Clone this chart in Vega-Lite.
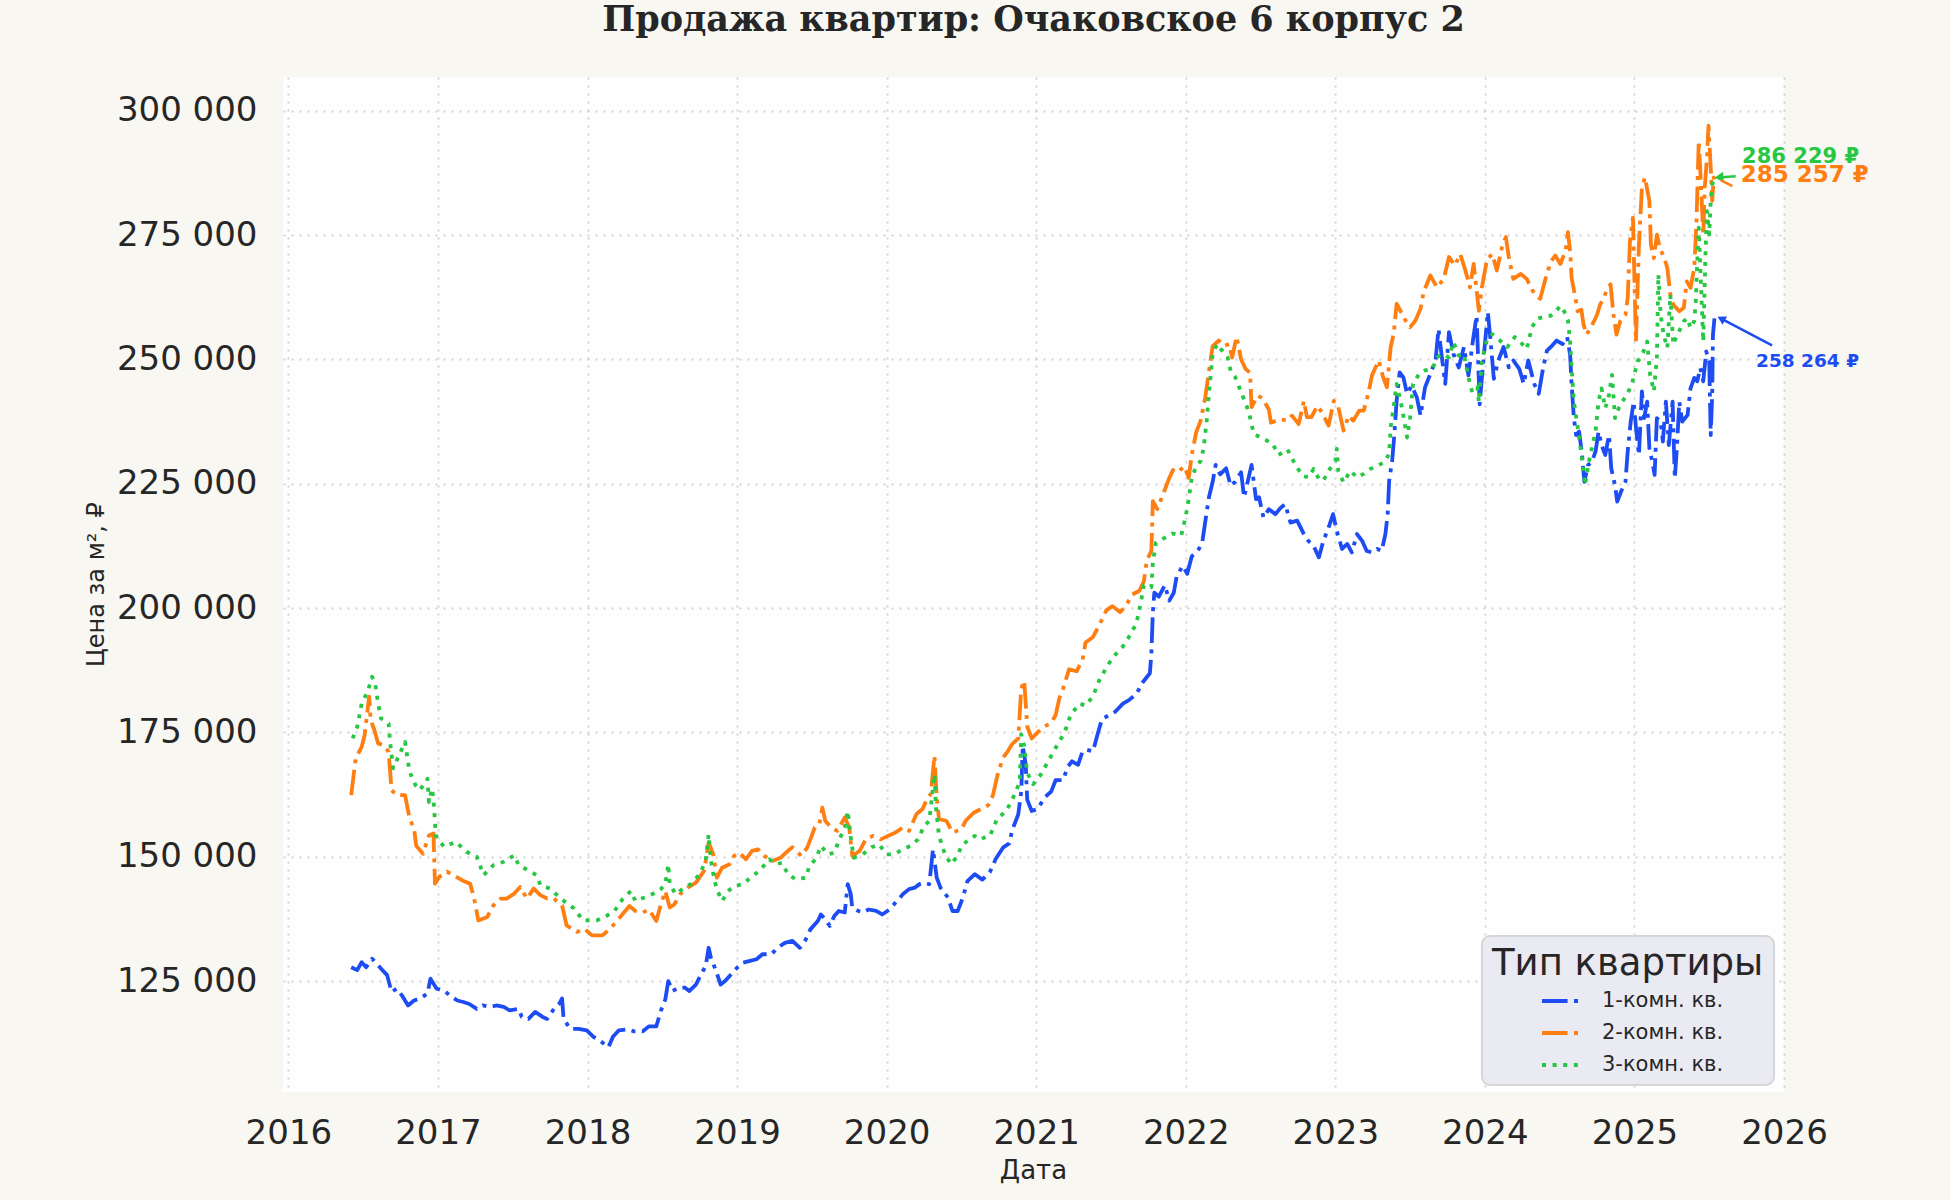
{
  "$schema": "https://vega.github.io/schema/vega-lite/v6.json",
  "width": 1501,
  "height": 1015,
  "autosize": {"type": "none"},
  "padding": {"left": 283, "top": 77, "right": 166, "bottom": 108},
  "background": "#f8f7f2",
  "title": {
    "text": "Продажа квартир: Очаковское 6 корпус 2",
    "font": "DejaVu Serif",
    "fontSize": 35,
    "fontWeight": "bold",
    "color": "#262626",
    "anchor": "middle",
    "frame": "group",
    "offset": 39
  },
  "config": {
    "font": "DejaVu Sans",
    "view": {"fill": "#fefefe", "stroke": null},
    "axis": {
      "domain": false,
      "ticks": false,
      "tickSize": 0,
      "grid": true,
      "gridColor": "#d2d2d2",
      "gridDash": [2, 6],
      "gridWidth": 2,
      "labelFont": "DejaVu Sans",
      "labelFontSize": 34,
      "labelColor": "#262626",
      "labelFlush": false,
      "titleFont": "DejaVu Sans",
      "titleFontWeight": "normal",
      "titleColor": "#262626"
    },
    "legend": {
      "orient": "none",
      "legendX": 1199,
      "legendY": 859,
      "padding": 10,
      "fillColor": "#eaeaf2",
      "strokeColor": "#d6d6d6",
      "strokeWidth": 2,
      "cornerRadius": 8,
      "titleFont": "DejaVu Sans",
      "titleFontSize": 37,
      "titleFontWeight": "normal",
      "titleColor": "#262626",
      "titlePadding": -4,
      "titleLimit": 400,
      "labelFont": "DejaVu Sans",
      "labelFontSize": 21,
      "labelColor": "#262626",
      "labelOffset": 18,
      "labelLimit": 300,
      "symbolType": "stroke",
      "symbolSize": 1600,
      "symbolStrokeWidth": 4,
      "symbolOffset": 48,
      "rowPadding": -11
    }
  },
  "layer": [
    {
      "data": {
        "values": [
          {"t": 2016.42, "v": 127800, "type": "1-комн. кв."},
          {"t": 2016.46, "v": 127200, "type": "1-комн. кв."},
          {"t": 2016.49, "v": 128800, "type": "1-комн. кв."},
          {"t": 2016.52, "v": 127800, "type": "1-комн. кв."},
          {"t": 2016.56, "v": 129500, "type": "1-комн. кв."},
          {"t": 2016.59, "v": 128500, "type": "1-комн. кв."},
          {"t": 2016.62, "v": 127500, "type": "1-комн. кв."},
          {"t": 2016.66, "v": 126200, "type": "1-комн. кв."},
          {"t": 2016.69, "v": 122800, "type": "1-комн. кв."},
          {"t": 2016.725, "v": 123500, "type": "1-комн. кв."},
          {"t": 2016.76, "v": 122100, "type": "1-комн. кв."},
          {"t": 2016.8, "v": 120100, "type": "1-комн. кв."},
          {"t": 2016.84, "v": 121100, "type": "1-комн. кв."},
          {"t": 2016.88, "v": 121500, "type": "1-комн. кв."},
          {"t": 2016.93, "v": 122500, "type": "1-комн. кв."},
          {"t": 2016.95, "v": 125500, "type": "1-комн. кв."},
          {"t": 2016.99, "v": 123500, "type": "1-комн. кв."},
          {"t": 2017.04, "v": 123100, "type": "1-комн. кв."},
          {"t": 2017.08, "v": 122100, "type": "1-комн. кв."},
          {"t": 2017.13, "v": 121100, "type": "1-комн. кв."},
          {"t": 2017.17, "v": 120800, "type": "1-комн. кв."},
          {"t": 2017.21, "v": 120400, "type": "1-комн. кв."},
          {"t": 2017.26, "v": 119400, "type": "1-комн. кв."},
          {"t": 2017.3, "v": 120100, "type": "1-комн. кв."},
          {"t": 2017.35, "v": 119800, "type": "1-комн. кв."},
          {"t": 2017.39, "v": 120100, "type": "1-комн. кв."},
          {"t": 2017.44, "v": 119800, "type": "1-комн. кв."},
          {"t": 2017.48, "v": 119100, "type": "1-комн. кв."},
          {"t": 2017.54, "v": 119400, "type": "1-комн. кв."},
          {"t": 2017.56, "v": 117800, "type": "1-комн. кв."},
          {"t": 2017.605, "v": 117400, "type": "1-комн. кв."},
          {"t": 2017.65, "v": 118800, "type": "1-комн. кв."},
          {"t": 2017.7, "v": 117800, "type": "1-комн. кв."},
          {"t": 2017.73, "v": 117400, "type": "1-комн. кв."},
          {"t": 2017.775, "v": 119400, "type": "1-комн. кв."},
          {"t": 2017.81, "v": 120400, "type": "1-комн. кв."},
          {"t": 2017.83, "v": 121500, "type": "1-комн. кв."},
          {"t": 2017.84, "v": 117400, "type": "1-комн. кв."},
          {"t": 2017.885, "v": 115400, "type": "1-комн. кв."},
          {"t": 2017.94, "v": 115400, "type": "1-комн. кв."},
          {"t": 2017.995, "v": 115100, "type": "1-комн. кв."},
          {"t": 2018.04, "v": 113800, "type": "1-комн. кв."},
          {"t": 2018.08, "v": 113100, "type": "1-комн. кв."},
          {"t": 2018.14, "v": 111700, "type": "1-комн. кв."},
          {"t": 2018.17, "v": 113800, "type": "1-комн. кв."},
          {"t": 2018.21, "v": 115100, "type": "1-комн. кв."},
          {"t": 2018.27, "v": 115300, "type": "1-комн. кв."},
          {"t": 2018.31, "v": 114900, "type": "1-комн. кв."},
          {"t": 2018.37, "v": 114900, "type": "1-комн. кв."},
          {"t": 2018.41, "v": 115900, "type": "1-комн. кв."},
          {"t": 2018.46, "v": 115900, "type": "1-комн. кв."},
          {"t": 2018.49, "v": 119000, "type": "1-комн. кв."},
          {"t": 2018.52, "v": 121300, "type": "1-комн. кв."},
          {"t": 2018.54, "v": 125000, "type": "1-комн. кв."},
          {"t": 2018.57, "v": 123000, "type": "1-комн. кв."},
          {"t": 2018.61, "v": 123700, "type": "1-комн. кв."},
          {"t": 2018.65, "v": 123700, "type": "1-комн. кв."},
          {"t": 2018.68, "v": 123000, "type": "1-комн. кв."},
          {"t": 2018.725, "v": 124300, "type": "1-комн. кв."},
          {"t": 2018.76, "v": 126400, "type": "1-комн. кв."},
          {"t": 2018.79, "v": 128000, "type": "1-комн. кв."},
          {"t": 2018.81, "v": 131700, "type": "1-комн. кв."},
          {"t": 2018.825, "v": 129700, "type": "1-комн. кв."},
          {"t": 2018.86, "v": 127000, "type": "1-комн. кв."},
          {"t": 2018.89, "v": 124300, "type": "1-комн. кв."},
          {"t": 2018.92, "v": 125000, "type": "1-комн. кв."},
          {"t": 2018.97, "v": 126700, "type": "1-комн. кв."},
          {"t": 2019.0, "v": 127700, "type": "1-комн. кв."},
          {"t": 2019.04, "v": 128700, "type": "1-комн. кв."},
          {"t": 2019.08, "v": 129000, "type": "1-комн. кв."},
          {"t": 2019.13, "v": 129400, "type": "1-комн. кв."},
          {"t": 2019.17, "v": 130400, "type": "1-комн. кв."},
          {"t": 2019.23, "v": 130400, "type": "1-комн. кв."},
          {"t": 2019.27, "v": 131700, "type": "1-комн. кв."},
          {"t": 2019.32, "v": 132700, "type": "1-комн. кв."},
          {"t": 2019.37, "v": 133100, "type": "1-комн. кв."},
          {"t": 2019.42, "v": 131700, "type": "1-комн. кв."},
          {"t": 2019.46, "v": 133400, "type": "1-комн. кв."},
          {"t": 2019.49, "v": 135400, "type": "1-комн. кв."},
          {"t": 2019.54, "v": 137100, "type": "1-комн. кв."},
          {"t": 2019.56, "v": 138400, "type": "1-комн. кв."},
          {"t": 2019.59, "v": 137400, "type": "1-комн. кв."},
          {"t": 2019.62, "v": 136100, "type": "1-комн. кв."},
          {"t": 2019.65, "v": 138100, "type": "1-комн. кв."},
          {"t": 2019.68, "v": 139100, "type": "1-комн. кв."},
          {"t": 2019.72, "v": 138800, "type": "1-комн. кв."},
          {"t": 2019.74, "v": 144500, "type": "1-комн. кв."},
          {"t": 2019.76, "v": 142500, "type": "1-комн. кв."},
          {"t": 2019.77, "v": 139800, "type": "1-комн. кв."},
          {"t": 2019.81, "v": 139100, "type": "1-комн. кв."},
          {"t": 2019.84, "v": 138800, "type": "1-комн. кв."},
          {"t": 2019.88, "v": 139400, "type": "1-комн. кв."},
          {"t": 2019.93, "v": 139100, "type": "1-комн. кв."},
          {"t": 2019.97, "v": 138400, "type": "1-комн. кв."},
          {"t": 2020.02, "v": 139400, "type": "1-комн. кв."},
          {"t": 2020.06, "v": 140800, "type": "1-комн. кв."},
          {"t": 2020.11, "v": 142500, "type": "1-комн. кв."},
          {"t": 2020.15, "v": 143500, "type": "1-комн. кв."},
          {"t": 2020.19, "v": 143800, "type": "1-комн. кв."},
          {"t": 2020.22, "v": 144500, "type": "1-комн. кв."},
          {"t": 2020.25, "v": 144800, "type": "1-комн. кв."},
          {"t": 2020.285, "v": 144500, "type": "1-комн. кв."},
          {"t": 2020.31, "v": 151500, "type": "1-комн. кв."},
          {"t": 2020.335, "v": 145800, "type": "1-комн. кв."},
          {"t": 2020.36, "v": 143800, "type": "1-комн. кв."},
          {"t": 2020.41, "v": 141800, "type": "1-комн. кв."},
          {"t": 2020.44, "v": 139100, "type": "1-комн. кв."},
          {"t": 2020.475, "v": 139100, "type": "1-комн. кв."},
          {"t": 2020.51, "v": 141800, "type": "1-комн. кв."},
          {"t": 2020.54, "v": 145100, "type": "1-комн. кв."},
          {"t": 2020.59, "v": 146500, "type": "1-комн. кв."},
          {"t": 2020.64, "v": 145400, "type": "1-комн. кв."},
          {"t": 2020.69, "v": 146900, "type": "1-комн. кв."},
          {"t": 2020.73, "v": 149600, "type": "1-комн. кв."},
          {"t": 2020.78, "v": 151900, "type": "1-комн. кв."},
          {"t": 2020.82, "v": 152700, "type": "1-комн. кв."},
          {"t": 2020.84, "v": 155400, "type": "1-комн. кв."},
          {"t": 2020.88, "v": 158500, "type": "1-комн. кв."},
          {"t": 2020.9, "v": 163100, "type": "1-комн. кв."},
          {"t": 2020.91, "v": 172300, "type": "1-комн. кв."},
          {"t": 2020.93, "v": 168500, "type": "1-комн. кв."},
          {"t": 2020.94, "v": 161500, "type": "1-комн. кв."},
          {"t": 2020.97, "v": 159200, "type": "1-комн. кв."},
          {"t": 2021.01, "v": 159600, "type": "1-комн. кв."},
          {"t": 2021.055, "v": 161900, "type": "1-комн. кв."},
          {"t": 2021.1, "v": 163100, "type": "1-комн. кв."},
          {"t": 2021.13, "v": 165400, "type": "1-комн. кв."},
          {"t": 2021.18, "v": 165400, "type": "1-комн. кв."},
          {"t": 2021.21, "v": 168100, "type": "1-комн. кв."},
          {"t": 2021.24, "v": 169200, "type": "1-комн. кв."},
          {"t": 2021.28, "v": 168500, "type": "1-комн. кв."},
          {"t": 2021.31, "v": 171200, "type": "1-комн. кв."},
          {"t": 2021.34, "v": 171500, "type": "1-комн. кв."},
          {"t": 2021.38, "v": 171200, "type": "1-комн. кв."},
          {"t": 2021.41, "v": 174600, "type": "1-комн. кв."},
          {"t": 2021.44, "v": 177700, "type": "1-комн. кв."},
          {"t": 2021.49, "v": 178500, "type": "1-комн. кв."},
          {"t": 2021.53, "v": 179200, "type": "1-комн. кв."},
          {"t": 2021.58, "v": 180800, "type": "1-комн. кв."},
          {"t": 2021.62, "v": 181500, "type": "1-комн. кв."},
          {"t": 2021.67, "v": 182700, "type": "1-комн. кв."},
          {"t": 2021.71, "v": 185000, "type": "1-комн. кв."},
          {"t": 2021.76, "v": 186900, "type": "1-комн. кв."},
          {"t": 2021.77, "v": 190800, "type": "1-комн. кв."},
          {"t": 2021.78, "v": 199200, "type": "1-комн. кв."},
          {"t": 2021.79, "v": 203100, "type": "1-комн. кв."},
          {"t": 2021.82, "v": 202300, "type": "1-комн. кв."},
          {"t": 2021.86, "v": 204600, "type": "1-комн. кв."},
          {"t": 2021.89, "v": 201500, "type": "1-комн. кв."},
          {"t": 2021.92, "v": 203100, "type": "1-комн. кв."},
          {"t": 2021.94, "v": 206500, "type": "1-комн. кв."},
          {"t": 2021.98, "v": 208500, "type": "1-комн. кв."},
          {"t": 2022.01, "v": 206900, "type": "1-комн. кв."},
          {"t": 2022.04, "v": 210400, "type": "1-комн. кв."},
          {"t": 2022.08, "v": 211500, "type": "1-комн. кв."},
          {"t": 2022.11, "v": 213100, "type": "1-комн. кв."},
          {"t": 2022.13, "v": 217300, "type": "1-комн. кв."},
          {"t": 2022.155, "v": 222300, "type": "1-комн. кв."},
          {"t": 2022.18, "v": 225400, "type": "1-комн. кв."},
          {"t": 2022.2, "v": 228800, "type": "1-комн. кв."},
          {"t": 2022.23, "v": 226900, "type": "1-комн. кв."},
          {"t": 2022.27, "v": 228100, "type": "1-комн. кв."},
          {"t": 2022.3, "v": 224600, "type": "1-комн. кв."},
          {"t": 2022.33, "v": 225400, "type": "1-комн. кв."},
          {"t": 2022.37, "v": 227300, "type": "1-комн. кв."},
          {"t": 2022.39, "v": 222300, "type": "1-комн. кв."},
          {"t": 2022.42, "v": 226200, "type": "1-комн. кв."},
          {"t": 2022.44, "v": 228800, "type": "1-комн. кв."},
          {"t": 2022.47, "v": 221900, "type": "1-комн. кв."},
          {"t": 2022.49, "v": 222300, "type": "1-комн. кв."},
          {"t": 2022.52, "v": 218200, "type": "1-комн. кв."},
          {"t": 2022.555, "v": 219900, "type": "1-комн. кв."},
          {"t": 2022.6, "v": 218900, "type": "1-комн. кв."},
          {"t": 2022.635, "v": 220200, "type": "1-комн. кв."},
          {"t": 2022.665, "v": 220900, "type": "1-комн. кв."},
          {"t": 2022.7, "v": 217200, "type": "1-комн. кв."},
          {"t": 2022.745, "v": 217600, "type": "1-комн. кв."},
          {"t": 2022.79, "v": 214900, "type": "1-комн. кв."},
          {"t": 2022.82, "v": 213500, "type": "1-комн. кв."},
          {"t": 2022.855, "v": 212500, "type": "1-комн. кв."},
          {"t": 2022.89, "v": 210200, "type": "1-комн. кв."},
          {"t": 2022.92, "v": 213500, "type": "1-комн. кв."},
          {"t": 2022.955, "v": 216200, "type": "1-комн. кв."},
          {"t": 2022.985, "v": 218900, "type": "1-комн. кв."},
          {"t": 2023.01, "v": 215500, "type": "1-комн. кв."},
          {"t": 2023.045, "v": 211900, "type": "1-комн. кв."},
          {"t": 2023.08, "v": 212900, "type": "1-комн. кв."},
          {"t": 2023.11, "v": 211200, "type": "1-комн. кв."},
          {"t": 2023.145, "v": 214900, "type": "1-комн. кв."},
          {"t": 2023.18, "v": 213500, "type": "1-комн. кв."},
          {"t": 2023.21, "v": 211500, "type": "1-комн. кв."},
          {"t": 2023.245, "v": 211200, "type": "1-комн. кв."},
          {"t": 2023.28, "v": 211900, "type": "1-комн. кв."},
          {"t": 2023.31, "v": 211500, "type": "1-комн. кв."},
          {"t": 2023.335, "v": 214900, "type": "1-комн. кв."},
          {"t": 2023.35, "v": 218900, "type": "1-комн. кв."},
          {"t": 2023.36, "v": 225600, "type": "1-комн. кв."},
          {"t": 2023.38, "v": 229600, "type": "1-комн. кв."},
          {"t": 2023.395, "v": 235000, "type": "1-комн. кв."},
          {"t": 2023.41, "v": 241700, "type": "1-комн. кв."},
          {"t": 2023.43, "v": 247400, "type": "1-комн. кв."},
          {"t": 2023.455, "v": 246400, "type": "1-комн. кв."},
          {"t": 2023.48, "v": 243100, "type": "1-комн. кв."},
          {"t": 2023.51, "v": 244700, "type": "1-комн. кв."},
          {"t": 2023.545, "v": 242400, "type": "1-комн. кв."},
          {"t": 2023.57, "v": 238700, "type": "1-комн. кв."},
          {"t": 2023.6, "v": 244400, "type": "1-комн. кв."},
          {"t": 2023.635, "v": 247100, "type": "1-комн. кв."},
          {"t": 2023.67, "v": 249800, "type": "1-комн. кв."},
          {"t": 2023.69, "v": 256100, "type": "1-комн. кв."},
          {"t": 2023.715, "v": 249800, "type": "1-комн. кв."},
          {"t": 2023.735, "v": 245100, "type": "1-комн. кв."},
          {"t": 2023.76, "v": 255500, "type": "1-комн. кв."},
          {"t": 2023.79, "v": 251100, "type": "1-комн. кв."},
          {"t": 2023.825, "v": 248400, "type": "1-комн. кв."},
          {"t": 2023.86, "v": 252500, "type": "1-комн. кв."},
          {"t": 2023.89, "v": 246800, "type": "1-комн. кв."},
          {"t": 2023.92, "v": 253800, "type": "1-комн. кв."},
          {"t": 2023.945, "v": 258800, "type": "1-комн. кв."},
          {"t": 2023.965, "v": 241000, "type": "1-комн. кв."},
          {"t": 2023.99, "v": 249800, "type": "1-комн. кв."},
          {"t": 2024.02, "v": 259500, "type": "1-комн. кв."},
          {"t": 2024.04, "v": 253100, "type": "1-комн. кв."},
          {"t": 2024.06, "v": 246100, "type": "1-комн. кв."},
          {"t": 2024.09, "v": 249800, "type": "1-комн. кв."},
          {"t": 2024.125, "v": 252500, "type": "1-комн. кв."},
          {"t": 2024.16, "v": 248400, "type": "1-комн. кв."},
          {"t": 2024.19, "v": 249800, "type": "1-комн. кв."},
          {"t": 2024.23, "v": 248100, "type": "1-комн. кв."},
          {"t": 2024.26, "v": 245100, "type": "1-комн. кв."},
          {"t": 2024.29, "v": 249800, "type": "1-комн. кв."},
          {"t": 2024.33, "v": 245100, "type": "1-комн. кв."},
          {"t": 2024.36, "v": 243100, "type": "1-комн. кв."},
          {"t": 2024.39, "v": 248400, "type": "1-комн. кв."},
          {"t": 2024.415, "v": 251800, "type": "1-комн. кв."},
          {"t": 2024.45, "v": 252800, "type": "1-комн. кв."},
          {"t": 2024.48, "v": 253800, "type": "1-комн. кв."},
          {"t": 2024.52, "v": 253100, "type": "1-комн. кв."},
          {"t": 2024.55, "v": 254500, "type": "1-комн. кв."},
          {"t": 2024.57, "v": 250900, "type": "1-комн. кв."},
          {"t": 2024.58, "v": 244900, "type": "1-комн. кв."},
          {"t": 2024.595, "v": 238200, "type": "1-комн. кв."},
          {"t": 2024.61, "v": 234800, "type": "1-комн. кв."},
          {"t": 2024.63, "v": 235500, "type": "1-комн. кв."},
          {"t": 2024.65, "v": 230800, "type": "1-комн. кв."},
          {"t": 2024.665, "v": 225400, "type": "1-комн. кв."},
          {"t": 2024.69, "v": 228800, "type": "1-комн. кв."},
          {"t": 2024.715, "v": 229400, "type": "1-комн. кв."},
          {"t": 2024.74, "v": 231500, "type": "1-комн. кв."},
          {"t": 2024.76, "v": 235500, "type": "1-комн. кв."},
          {"t": 2024.78, "v": 232800, "type": "1-комн. кв."},
          {"t": 2024.805, "v": 230800, "type": "1-комн. кв."},
          {"t": 2024.83, "v": 234800, "type": "1-комн. кв."},
          {"t": 2024.845, "v": 228100, "type": "1-комн. кв."},
          {"t": 2024.87, "v": 224700, "type": "1-комн. кв."},
          {"t": 2024.885, "v": 221400, "type": "1-комн. кв."},
          {"t": 2024.91, "v": 223400, "type": "1-комн. кв."},
          {"t": 2024.94, "v": 225400, "type": "1-комн. кв."},
          {"t": 2024.955, "v": 231500, "type": "1-комн. кв."},
          {"t": 2024.975, "v": 237500, "type": "1-комн. кв."},
          {"t": 2024.995, "v": 241500, "type": "1-комн. кв."},
          {"t": 2025.015, "v": 234800, "type": "1-комн. кв."},
          {"t": 2025.03, "v": 230800, "type": "1-комн. кв."},
          {"t": 2025.05, "v": 243600, "type": "1-комн. кв."},
          {"t": 2025.065, "v": 238200, "type": "1-комн. кв."},
          {"t": 2025.085, "v": 241500, "type": "1-комн. кв."},
          {"t": 2025.1, "v": 232100, "type": "1-комн. кв."},
          {"t": 2025.12, "v": 229400, "type": "1-комн. кв."},
          {"t": 2025.135, "v": 226800, "type": "1-комн. кв."},
          {"t": 2025.15, "v": 238200, "type": "1-комн. кв."},
          {"t": 2025.175, "v": 237500, "type": "1-комн. кв."},
          {"t": 2025.19, "v": 233500, "type": "1-комн. кв."},
          {"t": 2025.21, "v": 241500, "type": "1-комн. кв."},
          {"t": 2025.23, "v": 232800, "type": "1-комн. кв."},
          {"t": 2025.255, "v": 241500, "type": "1-комн. кв."},
          {"t": 2025.27, "v": 226100, "type": "1-комн. кв."},
          {"t": 2025.285, "v": 232800, "type": "1-комн. кв."},
          {"t": 2025.3, "v": 241500, "type": "1-комн. кв."},
          {"t": 2025.32, "v": 237500, "type": "1-комн. кв."},
          {"t": 2025.355, "v": 238800, "type": "1-комн. кв."},
          {"t": 2025.375, "v": 244200, "type": "1-комн. кв."},
          {"t": 2025.4, "v": 246300, "type": "1-комн. кв."},
          {"t": 2025.42, "v": 245600, "type": "1-комн. кв."},
          {"t": 2025.44, "v": 248300, "type": "1-комн. кв."},
          {"t": 2025.46, "v": 245600, "type": "1-комн. кв."},
          {"t": 2025.48, "v": 251600, "type": "1-комн. кв."},
          {"t": 2025.5, "v": 249600, "type": "1-комн. кв."},
          {"t": 2025.51, "v": 234800, "type": "1-комн. кв."},
          {"t": 2025.52, "v": 242900, "type": "1-комн. кв."},
          {"t": 2025.525, "v": 255000, "type": "1-комн. кв."},
          {"t": 2025.535, "v": 258264, "type": "1-комн. кв."},
          {"t": 2016.42, "v": 162400, "type": "2-комн. кв."},
          {"t": 2016.45, "v": 169800, "type": "2-комн. кв."},
          {"t": 2016.49, "v": 172100, "type": "2-комн. кв."},
          {"t": 2016.51, "v": 174500, "type": "2-комн. кв."},
          {"t": 2016.54, "v": 182200, "type": "2-комн. кв."},
          {"t": 2016.55, "v": 177500, "type": "2-комн. кв."},
          {"t": 2016.575, "v": 175500, "type": "2-комн. кв."},
          {"t": 2016.6, "v": 172800, "type": "2-комн. кв."},
          {"t": 2016.64, "v": 172400, "type": "2-комн. кв."},
          {"t": 2016.67, "v": 171100, "type": "2-комн. кв."},
          {"t": 2016.69, "v": 163400, "type": "2-комн. кв."},
          {"t": 2016.725, "v": 162400, "type": "2-комн. кв."},
          {"t": 2016.78, "v": 162400, "type": "2-комн. кв."},
          {"t": 2016.81, "v": 157700, "type": "2-комн. кв."},
          {"t": 2016.84, "v": 155700, "type": "2-комн. кв."},
          {"t": 2016.855, "v": 152200, "type": "2-комн. кв."},
          {"t": 2016.9, "v": 150600, "type": "2-комн. кв."},
          {"t": 2016.94, "v": 154300, "type": "2-комн. кв."},
          {"t": 2016.97, "v": 154700, "type": "2-комн. кв."},
          {"t": 2016.98, "v": 144600, "type": "2-комн. кв."},
          {"t": 2017.01, "v": 146000, "type": "2-комн. кв."},
          {"t": 2017.06, "v": 147000, "type": "2-комн. кв."},
          {"t": 2017.105, "v": 146300, "type": "2-комн. кв."},
          {"t": 2017.16, "v": 145300, "type": "2-комн. кв."},
          {"t": 2017.215, "v": 144600, "type": "2-комн. кв."},
          {"t": 2017.24, "v": 141900, "type": "2-комн. кв."},
          {"t": 2017.27, "v": 137200, "type": "2-комн. кв."},
          {"t": 2017.33, "v": 137900, "type": "2-комн. кв."},
          {"t": 2017.37, "v": 140200, "type": "2-комн. кв."},
          {"t": 2017.42, "v": 141600, "type": "2-комн. кв."},
          {"t": 2017.46, "v": 141600, "type": "2-комн. кв."},
          {"t": 2017.51, "v": 142600, "type": "2-комн. кв."},
          {"t": 2017.55, "v": 143900, "type": "2-комн. кв."},
          {"t": 2017.595, "v": 141600, "type": "2-комн. кв."},
          {"t": 2017.64, "v": 143600, "type": "2-комн. кв."},
          {"t": 2017.685, "v": 142300, "type": "2-комн. кв."},
          {"t": 2017.73, "v": 141600, "type": "2-комн. кв."},
          {"t": 2017.775, "v": 141600, "type": "2-комн. кв."},
          {"t": 2017.83, "v": 140200, "type": "2-комн. кв."},
          {"t": 2017.86, "v": 136200, "type": "2-комн. кв."},
          {"t": 2017.93, "v": 134900, "type": "2-комн. кв."},
          {"t": 2017.98, "v": 135500, "type": "2-комн. кв."},
          {"t": 2018.03, "v": 134200, "type": "2-комн. кв."},
          {"t": 2018.1, "v": 134200, "type": "2-комн. кв."},
          {"t": 2018.15, "v": 135500, "type": "2-комн. кв."},
          {"t": 2018.21, "v": 137600, "type": "2-комн. кв."},
          {"t": 2018.28, "v": 140100, "type": "2-комн. кв."},
          {"t": 2018.32, "v": 139100, "type": "2-комн. кв."},
          {"t": 2018.37, "v": 138800, "type": "2-комн. кв."},
          {"t": 2018.41, "v": 139400, "type": "2-комн. кв."},
          {"t": 2018.46, "v": 137100, "type": "2-комн. кв."},
          {"t": 2018.49, "v": 140400, "type": "2-комн. кв."},
          {"t": 2018.52, "v": 143100, "type": "2-комн. кв."},
          {"t": 2018.55, "v": 139800, "type": "2-комн. кв."},
          {"t": 2018.58, "v": 140400, "type": "2-комн. кв."},
          {"t": 2018.62, "v": 142500, "type": "2-комн. кв."},
          {"t": 2018.67, "v": 143800, "type": "2-комн. кв."},
          {"t": 2018.725, "v": 144800, "type": "2-комн. кв."},
          {"t": 2018.78, "v": 147200, "type": "2-комн. кв."},
          {"t": 2018.81, "v": 152900, "type": "2-комн. кв."},
          {"t": 2018.84, "v": 150500, "type": "2-комн. кв."},
          {"t": 2018.865, "v": 145800, "type": "2-комн. кв."},
          {"t": 2018.9, "v": 147800, "type": "2-комн. кв."},
          {"t": 2018.95, "v": 148500, "type": "2-комн. кв."},
          {"t": 2018.98, "v": 150200, "type": "2-комн. кв."},
          {"t": 2019.015, "v": 150800, "type": "2-комн. кв."},
          {"t": 2019.06, "v": 149500, "type": "2-комн. кв."},
          {"t": 2019.1, "v": 151200, "type": "2-комн. кв."},
          {"t": 2019.14, "v": 151500, "type": "2-комн. кв."},
          {"t": 2019.18, "v": 150200, "type": "2-комн. кв."},
          {"t": 2019.24, "v": 149200, "type": "2-комн. кв."},
          {"t": 2019.29, "v": 149800, "type": "2-комн. кв."},
          {"t": 2019.34, "v": 151200, "type": "2-комн. кв."},
          {"t": 2019.37, "v": 151900, "type": "2-комн. кв."},
          {"t": 2019.43, "v": 150200, "type": "2-комн. кв."},
          {"t": 2019.47, "v": 151900, "type": "2-комн. кв."},
          {"t": 2019.52, "v": 155900, "type": "2-комн. кв."},
          {"t": 2019.55, "v": 156500, "type": "2-комн. кв."},
          {"t": 2019.57, "v": 159900, "type": "2-комн. кв."},
          {"t": 2019.59, "v": 157200, "type": "2-комн. кв."},
          {"t": 2019.63, "v": 155900, "type": "2-комн. кв."},
          {"t": 2019.67, "v": 155200, "type": "2-комн. кв."},
          {"t": 2019.72, "v": 157900, "type": "2-комн. кв."},
          {"t": 2019.75, "v": 155900, "type": "2-комн. кв."},
          {"t": 2019.77, "v": 150200, "type": "2-комн. кв."},
          {"t": 2019.82, "v": 151200, "type": "2-комн. кв."},
          {"t": 2019.86, "v": 153500, "type": "2-комн. кв."},
          {"t": 2019.91, "v": 154200, "type": "2-комн. кв."},
          {"t": 2019.96, "v": 153500, "type": "2-комн. кв."},
          {"t": 2020.01, "v": 154200, "type": "2-комн. кв."},
          {"t": 2020.06, "v": 154900, "type": "2-комн. кв."},
          {"t": 2020.11, "v": 155900, "type": "2-комн. кв."},
          {"t": 2020.15, "v": 155200, "type": "2-комн. кв."},
          {"t": 2020.2, "v": 158600, "type": "2-комн. кв."},
          {"t": 2020.24, "v": 159600, "type": "2-комн. кв."},
          {"t": 2020.275, "v": 161900, "type": "2-комн. кв."},
          {"t": 2020.295, "v": 162600, "type": "2-комн. кв."},
          {"t": 2020.32, "v": 170300, "type": "2-комн. кв."},
          {"t": 2020.335, "v": 161900, "type": "2-комн. кв."},
          {"t": 2020.35, "v": 157600, "type": "2-комн. кв."},
          {"t": 2020.4, "v": 157200, "type": "2-комн. кв."},
          {"t": 2020.44, "v": 154900, "type": "2-комн. кв."},
          {"t": 2020.5, "v": 155500, "type": "2-комн. кв."},
          {"t": 2020.53, "v": 157300, "type": "2-комн. кв."},
          {"t": 2020.58, "v": 158800, "type": "2-комн. кв."},
          {"t": 2020.63, "v": 159600, "type": "2-комн. кв."},
          {"t": 2020.68, "v": 160400, "type": "2-комн. кв."},
          {"t": 2020.71, "v": 162300, "type": "2-комн. кв."},
          {"t": 2020.745, "v": 166900, "type": "2-комн. кв."},
          {"t": 2020.78, "v": 170000, "type": "2-комн. кв."},
          {"t": 2020.81, "v": 171200, "type": "2-комн. кв."},
          {"t": 2020.84, "v": 172700, "type": "2-комн. кв."},
          {"t": 2020.88, "v": 173800, "type": "2-комн. кв."},
          {"t": 2020.9, "v": 183800, "type": "2-комн. кв."},
          {"t": 2020.92, "v": 185400, "type": "2-комн. кв."},
          {"t": 2020.94, "v": 176200, "type": "2-комн. кв."},
          {"t": 2020.97, "v": 173800, "type": "2-комн. кв."},
          {"t": 2021.01, "v": 175000, "type": "2-комн. кв."},
          {"t": 2021.055, "v": 176200, "type": "2-комн. кв."},
          {"t": 2021.1, "v": 176900, "type": "2-комн. кв."},
          {"t": 2021.13, "v": 178500, "type": "2-комн. кв."},
          {"t": 2021.155, "v": 181900, "type": "2-комн. кв."},
          {"t": 2021.18, "v": 183800, "type": "2-комн. кв."},
          {"t": 2021.22, "v": 187700, "type": "2-комн. кв."},
          {"t": 2021.27, "v": 187300, "type": "2-комн. кв."},
          {"t": 2021.31, "v": 189600, "type": "2-комн. кв."},
          {"t": 2021.33, "v": 193100, "type": "2-комн. кв."},
          {"t": 2021.38, "v": 194200, "type": "2-комн. кв."},
          {"t": 2021.42, "v": 196500, "type": "2-комн. кв."},
          {"t": 2021.47, "v": 199600, "type": "2-комн. кв."},
          {"t": 2021.51, "v": 200400, "type": "2-комн. кв."},
          {"t": 2021.56, "v": 199200, "type": "2-комн. кв."},
          {"t": 2021.6, "v": 200400, "type": "2-комн. кв."},
          {"t": 2021.64, "v": 202700, "type": "2-комн. кв."},
          {"t": 2021.69, "v": 203500, "type": "2-комн. кв."},
          {"t": 2021.72, "v": 205400, "type": "2-комн. кв."},
          {"t": 2021.74, "v": 209600, "type": "2-комн. кв."},
          {"t": 2021.77, "v": 211500, "type": "2-комн. кв."},
          {"t": 2021.78, "v": 221500, "type": "2-комн. кв."},
          {"t": 2021.81, "v": 219900, "type": "2-комн. кв."},
          {"t": 2021.83, "v": 221500, "type": "2-комн. кв."},
          {"t": 2021.86, "v": 223800, "type": "2-комн. кв."},
          {"t": 2021.89, "v": 226200, "type": "2-комн. кв."},
          {"t": 2021.92, "v": 228100, "type": "2-комн. кв."},
          {"t": 2021.96, "v": 227700, "type": "2-комн. кв."},
          {"t": 2021.99, "v": 228500, "type": "2-комн. кв."},
          {"t": 2022.02, "v": 226200, "type": "2-комн. кв."},
          {"t": 2022.04, "v": 230800, "type": "2-комн. кв."},
          {"t": 2022.07, "v": 235400, "type": "2-комн. кв."},
          {"t": 2022.1, "v": 237700, "type": "2-комн. кв."},
          {"t": 2022.13, "v": 242300, "type": "2-комн. кв."},
          {"t": 2022.155, "v": 247700, "type": "2-комн. кв."},
          {"t": 2022.18, "v": 252700, "type": "2-комн. кв."},
          {"t": 2022.22, "v": 253800, "type": "2-комн. кв."},
          {"t": 2022.255, "v": 252700, "type": "2-комн. кв."},
          {"t": 2022.29, "v": 253100, "type": "2-комн. кв."},
          {"t": 2022.31, "v": 250400, "type": "2-комн. кв."},
          {"t": 2022.34, "v": 254600, "type": "2-комн. кв."},
          {"t": 2022.37, "v": 250000, "type": "2-комн. кв."},
          {"t": 2022.4, "v": 248100, "type": "2-комн. кв."},
          {"t": 2022.43, "v": 247300, "type": "2-комн. кв."},
          {"t": 2022.44, "v": 240400, "type": "2-комн. кв."},
          {"t": 2022.48, "v": 242700, "type": "2-комн. кв."},
          {"t": 2022.51, "v": 242300, "type": "2-комн. кв."},
          {"t": 2022.555, "v": 240000, "type": "2-комн. кв."},
          {"t": 2022.57, "v": 237300, "type": "2-комн. кв."},
          {"t": 2022.63, "v": 238000, "type": "2-комн. кв."},
          {"t": 2022.68, "v": 237700, "type": "2-комн. кв."},
          {"t": 2022.71, "v": 238700, "type": "2-комн. кв."},
          {"t": 2022.755, "v": 237000, "type": "2-комн. кв."},
          {"t": 2022.79, "v": 241700, "type": "2-комн. кв."},
          {"t": 2022.81, "v": 238400, "type": "2-комн. кв."},
          {"t": 2022.84, "v": 238400, "type": "2-комн. кв."},
          {"t": 2022.88, "v": 240700, "type": "2-комн. кв."},
          {"t": 2022.91, "v": 239400, "type": "2-комн. кв."},
          {"t": 2022.955, "v": 236700, "type": "2-комн. кв."},
          {"t": 2022.99, "v": 241700, "type": "2-комн. кв."},
          {"t": 2023.02, "v": 240400, "type": "2-комн. кв."},
          {"t": 2023.055, "v": 235700, "type": "2-комн. кв."},
          {"t": 2023.09, "v": 238700, "type": "2-комн. кв."},
          {"t": 2023.12, "v": 237700, "type": "2-комн. кв."},
          {"t": 2023.16, "v": 239700, "type": "2-комн. кв."},
          {"t": 2023.19, "v": 239700, "type": "2-комн. кв."},
          {"t": 2023.22, "v": 243100, "type": "2-комн. кв."},
          {"t": 2023.245, "v": 246800, "type": "2-комн. кв."},
          {"t": 2023.29, "v": 249800, "type": "2-комн. кв."},
          {"t": 2023.32, "v": 246400, "type": "2-комн. кв."},
          {"t": 2023.345, "v": 244400, "type": "2-комн. кв."},
          {"t": 2023.37, "v": 252500, "type": "2-комн. кв."},
          {"t": 2023.39, "v": 255100, "type": "2-комн. кв."},
          {"t": 2023.41, "v": 261200, "type": "2-комн. кв."},
          {"t": 2023.435, "v": 259800, "type": "2-комн. кв."},
          {"t": 2023.47, "v": 257800, "type": "2-комн. кв."},
          {"t": 2023.5, "v": 256500, "type": "2-комн. кв."},
          {"t": 2023.535, "v": 257800, "type": "2-комн. кв."},
          {"t": 2023.57, "v": 260200, "type": "2-комн. кв."},
          {"t": 2023.59, "v": 263500, "type": "2-комн. кв."},
          {"t": 2023.635, "v": 266900, "type": "2-комн. кв."},
          {"t": 2023.68, "v": 264500, "type": "2-комн. кв."},
          {"t": 2023.725, "v": 266200, "type": "2-комн. кв."},
          {"t": 2023.76, "v": 270600, "type": "2-комн. кв."},
          {"t": 2023.8, "v": 268900, "type": "2-комн. кв."},
          {"t": 2023.835, "v": 271200, "type": "2-комн. кв."},
          {"t": 2023.87, "v": 267900, "type": "2-комн. кв."},
          {"t": 2023.9, "v": 264500, "type": "2-комн. кв."},
          {"t": 2023.925, "v": 269200, "type": "2-комн. кв."},
          {"t": 2023.96, "v": 259800, "type": "2-комн. кв."},
          {"t": 2023.98, "v": 264500, "type": "2-комн. кв."},
          {"t": 2024.015, "v": 270200, "type": "2-комн. кв."},
          {"t": 2024.05, "v": 271200, "type": "2-комн. кв."},
          {"t": 2024.08, "v": 267900, "type": "2-комн. кв."},
          {"t": 2024.115, "v": 272600, "type": "2-комн. кв."},
          {"t": 2024.14, "v": 274600, "type": "2-комн. кв."},
          {"t": 2024.16, "v": 270600, "type": "2-комн. кв."},
          {"t": 2024.19, "v": 266200, "type": "2-комн. кв."},
          {"t": 2024.24, "v": 267200, "type": "2-комн. кв."},
          {"t": 2024.28, "v": 266200, "type": "2-комн. кв."},
          {"t": 2024.33, "v": 263200, "type": "2-комн. кв."},
          {"t": 2024.37, "v": 262200, "type": "2-комн. кв."},
          {"t": 2024.405, "v": 266200, "type": "2-комн. кв."},
          {"t": 2024.44, "v": 269600, "type": "2-комн. кв."},
          {"t": 2024.47, "v": 270900, "type": "2-комн. кв."},
          {"t": 2024.505, "v": 269200, "type": "2-комн. кв."},
          {"t": 2024.54, "v": 271900, "type": "2-комн. кв."},
          {"t": 2024.555, "v": 275600, "type": "2-комн. кв."},
          {"t": 2024.57, "v": 271800, "type": "2-комн. кв."},
          {"t": 2024.58, "v": 266400, "type": "2-комн. кв."},
          {"t": 2024.605, "v": 262400, "type": "2-комн. кв."},
          {"t": 2024.62, "v": 259700, "type": "2-комн. кв."},
          {"t": 2024.645, "v": 260000, "type": "2-комн. кв."},
          {"t": 2024.66, "v": 257000, "type": "2-комн. кв."},
          {"t": 2024.68, "v": 255000, "type": "2-комн. кв."},
          {"t": 2024.705, "v": 256300, "type": "2-комн. кв."},
          {"t": 2024.73, "v": 257700, "type": "2-комн. кв."},
          {"t": 2024.75, "v": 259000, "type": "2-комн. кв."},
          {"t": 2024.77, "v": 261000, "type": "2-комн. кв."},
          {"t": 2024.795, "v": 262400, "type": "2-комн. кв."},
          {"t": 2024.82, "v": 264400, "type": "2-комн. кв."},
          {"t": 2024.84, "v": 265100, "type": "2-комн. кв."},
          {"t": 2024.86, "v": 259000, "type": "2-комн. кв."},
          {"t": 2024.88, "v": 255000, "type": "2-комн. кв."},
          {"t": 2024.905, "v": 257700, "type": "2-комн. кв."},
          {"t": 2024.94, "v": 259000, "type": "2-комн. кв."},
          {"t": 2024.955, "v": 262400, "type": "2-комн. кв."},
          {"t": 2024.97, "v": 273800, "type": "2-комн. кв."},
          {"t": 2024.99, "v": 278500, "type": "2-комн. кв."},
          {"t": 2025.01, "v": 253600, "type": "2-комн. кв."},
          {"t": 2025.03, "v": 273100, "type": "2-комн. кв."},
          {"t": 2025.05, "v": 284500, "type": "2-комн. кв."},
          {"t": 2025.07, "v": 286600, "type": "2-комн. кв."},
          {"t": 2025.1, "v": 281900, "type": "2-комн. кв."},
          {"t": 2025.11, "v": 273100, "type": "2-комн. кв."},
          {"t": 2025.13, "v": 270400, "type": "2-комн. кв."},
          {"t": 2025.15, "v": 275100, "type": "2-комн. кв."},
          {"t": 2025.17, "v": 272400, "type": "2-комн. кв."},
          {"t": 2025.2, "v": 270400, "type": "2-комн. кв."},
          {"t": 2025.22, "v": 268400, "type": "2-комн. кв."},
          {"t": 2025.24, "v": 263000, "type": "2-комн. кв."},
          {"t": 2025.26, "v": 261000, "type": "2-комн. кв."},
          {"t": 2025.3, "v": 259700, "type": "2-комн. кв."},
          {"t": 2025.33, "v": 260400, "type": "2-комн. кв."},
          {"t": 2025.35, "v": 265700, "type": "2-комн. кв."},
          {"t": 2025.375, "v": 264400, "type": "2-комн. кв."},
          {"t": 2025.4, "v": 268400, "type": "2-комн. кв."},
          {"t": 2025.415, "v": 277800, "type": "2-комн. кв."},
          {"t": 2025.43, "v": 294000, "type": "2-комн. кв."},
          {"t": 2025.445, "v": 285200, "type": "2-комн. кв."},
          {"t": 2025.46, "v": 275100, "type": "2-комн. кв."},
          {"t": 2025.47, "v": 284500, "type": "2-комн. кв."},
          {"t": 2025.485, "v": 290600, "type": "2-комн. кв."},
          {"t": 2025.495, "v": 297000, "type": "2-комн. кв."},
          {"t": 2025.51, "v": 288600, "type": "2-комн. кв."},
          {"t": 2025.52, "v": 281900, "type": "2-комн. кв."},
          {"t": 2025.53, "v": 286600, "type": "2-комн. кв."},
          {"t": 2025.54, "v": 285257, "type": "2-комн. кв."},
          {"t": 2016.43, "v": 173800, "type": "3-комн. кв."},
          {"t": 2016.46, "v": 176100, "type": "3-комн. кв."},
          {"t": 2016.49, "v": 180800, "type": "3-комн. кв."},
          {"t": 2016.53, "v": 183200, "type": "3-комн. кв."},
          {"t": 2016.56, "v": 186200, "type": "3-комн. кв."},
          {"t": 2016.58, "v": 184900, "type": "3-комн. кв."},
          {"t": 2016.6, "v": 180800, "type": "3-комн. кв."},
          {"t": 2016.62, "v": 177800, "type": "3-комн. кв."},
          {"t": 2016.67, "v": 176800, "type": "3-комн. кв."},
          {"t": 2016.68, "v": 173100, "type": "3-комн. кв."},
          {"t": 2016.7, "v": 167800, "type": "3-комн. кв."},
          {"t": 2016.74, "v": 170400, "type": "3-комн. кв."},
          {"t": 2016.78, "v": 173100, "type": "3-комн. кв."},
          {"t": 2016.79, "v": 171100, "type": "3-комн. кв."},
          {"t": 2016.81, "v": 167100, "type": "3-комн. кв."},
          {"t": 2016.85, "v": 164400, "type": "3-комн. кв."},
          {"t": 2016.88, "v": 163400, "type": "3-комн. кв."},
          {"t": 2016.93, "v": 165700, "type": "3-комн. кв."},
          {"t": 2016.94, "v": 161000, "type": "3-комн. кв."},
          {"t": 2016.96, "v": 163700, "type": "3-комн. кв."},
          {"t": 2016.97, "v": 161700, "type": "3-комн. кв."},
          {"t": 2016.98, "v": 157000, "type": "3-комн. кв."},
          {"t": 2016.985, "v": 154300, "type": "3-комн. кв."},
          {"t": 2017.04, "v": 152000, "type": "3-комн. кв."},
          {"t": 2017.12, "v": 153000, "type": "3-комн. кв."},
          {"t": 2017.19, "v": 151000, "type": "3-комн. кв."},
          {"t": 2017.26, "v": 150000, "type": "3-комн. кв."},
          {"t": 2017.305, "v": 146300, "type": "3-комн. кв."},
          {"t": 2017.37, "v": 148300, "type": "3-комн. кв."},
          {"t": 2017.44, "v": 149000, "type": "3-комн. кв."},
          {"t": 2017.51, "v": 150300, "type": "3-комн. кв."},
          {"t": 2017.54, "v": 148300, "type": "3-комн. кв."},
          {"t": 2017.62, "v": 147000, "type": "3-комн. кв."},
          {"t": 2017.66, "v": 146300, "type": "3-комн. кв."},
          {"t": 2017.685, "v": 144300, "type": "3-комн. кв."},
          {"t": 2017.75, "v": 143600, "type": "3-комн. кв."},
          {"t": 2017.82, "v": 141600, "type": "3-комн. кв."},
          {"t": 2017.91, "v": 139600, "type": "3-комн. кв."},
          {"t": 2017.97, "v": 137200, "type": "3-комн. кв."},
          {"t": 2018.06, "v": 137200, "type": "3-комн. кв."},
          {"t": 2018.11, "v": 137800, "type": "3-комн. кв."},
          {"t": 2018.18, "v": 139100, "type": "3-комн. кв."},
          {"t": 2018.235, "v": 141500, "type": "3-комн. кв."},
          {"t": 2018.29, "v": 143100, "type": "3-комн. кв."},
          {"t": 2018.32, "v": 141100, "type": "3-комн. кв."},
          {"t": 2018.38, "v": 141800, "type": "3-комн. кв."},
          {"t": 2018.435, "v": 142500, "type": "3-комн. кв."},
          {"t": 2018.49, "v": 143500, "type": "3-комн. кв."},
          {"t": 2018.52, "v": 144500, "type": "3-комн. кв."},
          {"t": 2018.54, "v": 148500, "type": "3-комн. кв."},
          {"t": 2018.55, "v": 144500, "type": "3-комн. кв."},
          {"t": 2018.59, "v": 142500, "type": "3-комн. кв."},
          {"t": 2018.635, "v": 143500, "type": "3-комн. кв."},
          {"t": 2018.69, "v": 144500, "type": "3-комн. кв."},
          {"t": 2018.75, "v": 146500, "type": "3-комн. кв."},
          {"t": 2018.79, "v": 149200, "type": "3-комн. кв."},
          {"t": 2018.81, "v": 154500, "type": "3-комн. кв."},
          {"t": 2018.825, "v": 149200, "type": "3-комн. кв."},
          {"t": 2018.85, "v": 145100, "type": "3-комн. кв."},
          {"t": 2018.87, "v": 143100, "type": "3-комн. кв."},
          {"t": 2018.9, "v": 141100, "type": "3-комн. кв."},
          {"t": 2018.94, "v": 143100, "type": "3-комн. кв."},
          {"t": 2018.98, "v": 144100, "type": "3-комн. кв."},
          {"t": 2019.04, "v": 144500, "type": "3-комн. кв."},
          {"t": 2019.09, "v": 145800, "type": "3-комн. кв."},
          {"t": 2019.15, "v": 147200, "type": "3-комн. кв."},
          {"t": 2019.215, "v": 149500, "type": "3-комн. кв."},
          {"t": 2019.26, "v": 148500, "type": "3-комн. кв."},
          {"t": 2019.3, "v": 148800, "type": "3-комн. кв."},
          {"t": 2019.34, "v": 146500, "type": "3-комн. кв."},
          {"t": 2019.39, "v": 145500, "type": "3-комн. кв."},
          {"t": 2019.46, "v": 145800, "type": "3-комн. кв."},
          {"t": 2019.48, "v": 147800, "type": "3-комн. кв."},
          {"t": 2019.53, "v": 149800, "type": "3-комн. кв."},
          {"t": 2019.56, "v": 152200, "type": "3-комн. кв."},
          {"t": 2019.61, "v": 150500, "type": "3-комн. кв."},
          {"t": 2019.65, "v": 150800, "type": "3-комн. кв."},
          {"t": 2019.68, "v": 153200, "type": "3-комн. кв."},
          {"t": 2019.72, "v": 155900, "type": "3-комн. кв."},
          {"t": 2019.74, "v": 159200, "type": "3-комн. кв."},
          {"t": 2019.76, "v": 153900, "type": "3-комн. кв."},
          {"t": 2019.78, "v": 149800, "type": "3-комн. кв."},
          {"t": 2019.84, "v": 150500, "type": "3-комн. кв."},
          {"t": 2019.9, "v": 151900, "type": "3-комн. кв."},
          {"t": 2019.95, "v": 152500, "type": "3-комн. кв."},
          {"t": 2020.0, "v": 150500, "type": "3-комн. кв."},
          {"t": 2020.05, "v": 150500, "type": "3-комн. кв."},
          {"t": 2020.11, "v": 151500, "type": "3-комн. кв."},
          {"t": 2020.16, "v": 152200, "type": "3-комн. кв."},
          {"t": 2020.21, "v": 153500, "type": "3-комн. кв."},
          {"t": 2020.25, "v": 156200, "type": "3-комн. кв."},
          {"t": 2020.285, "v": 157200, "type": "3-комн. кв."},
          {"t": 2020.32, "v": 166600, "type": "3-комн. кв."},
          {"t": 2020.33, "v": 159900, "type": "3-комн. кв."},
          {"t": 2020.35, "v": 154200, "type": "3-комн. кв."},
          {"t": 2020.39, "v": 150500, "type": "3-комн. кв."},
          {"t": 2020.43, "v": 148500, "type": "3-комн. кв."},
          {"t": 2020.475, "v": 150200, "type": "3-комн. кв."},
          {"t": 2020.5, "v": 152200, "type": "3-комн. кв."},
          {"t": 2020.54, "v": 153200, "type": "3-комн. кв."},
          {"t": 2020.59, "v": 154200, "type": "3-комн. кв."},
          {"t": 2020.62, "v": 153500, "type": "3-комн. кв."},
          {"t": 2020.69, "v": 154200, "type": "3-комн. кв."},
          {"t": 2020.74, "v": 157700, "type": "3-комн. кв."},
          {"t": 2020.8, "v": 159200, "type": "3-комн. кв."},
          {"t": 2020.84, "v": 161500, "type": "3-комн. кв."},
          {"t": 2020.89, "v": 165000, "type": "3-комн. кв."},
          {"t": 2020.9, "v": 174600, "type": "3-комн. кв."},
          {"t": 2020.92, "v": 172300, "type": "3-комн. кв."},
          {"t": 2020.94, "v": 166900, "type": "3-комн. кв."},
          {"t": 2020.98, "v": 164600, "type": "3-комн. кв."},
          {"t": 2021.03, "v": 166500, "type": "3-комн. кв."},
          {"t": 2021.08, "v": 169200, "type": "3-комн. кв."},
          {"t": 2021.13, "v": 171900, "type": "3-комн. кв."},
          {"t": 2021.19, "v": 175000, "type": "3-комн. кв."},
          {"t": 2021.23, "v": 178500, "type": "3-комн. кв."},
          {"t": 2021.29, "v": 180800, "type": "3-комн. кв."},
          {"t": 2021.33, "v": 180400, "type": "3-комн. кв."},
          {"t": 2021.38, "v": 182300, "type": "3-комн. кв."},
          {"t": 2021.42, "v": 185400, "type": "3-комн. кв."},
          {"t": 2021.47, "v": 188100, "type": "3-комн. кв."},
          {"t": 2021.51, "v": 190000, "type": "3-комн. кв."},
          {"t": 2021.58, "v": 192300, "type": "3-комн. кв."},
          {"t": 2021.62, "v": 194200, "type": "3-комн. кв."},
          {"t": 2021.67, "v": 196900, "type": "3-комн. кв."},
          {"t": 2021.7, "v": 201200, "type": "3-комн. кв."},
          {"t": 2021.72, "v": 204600, "type": "3-комн. кв."},
          {"t": 2021.77, "v": 204200, "type": "3-комн. кв."},
          {"t": 2021.78, "v": 209200, "type": "3-комн. кв."},
          {"t": 2021.8, "v": 213100, "type": "3-комн. кв."},
          {"t": 2021.84, "v": 213800, "type": "3-комн. кв."},
          {"t": 2021.91, "v": 215000, "type": "3-комн. кв."},
          {"t": 2021.97, "v": 214600, "type": "3-комн. кв."},
          {"t": 2022.0, "v": 218500, "type": "3-комн. кв."},
          {"t": 2022.02, "v": 221900, "type": "3-комн. кв."},
          {"t": 2022.04, "v": 226200, "type": "3-комн. кв."},
          {"t": 2022.07, "v": 228500, "type": "3-комн. кв."},
          {"t": 2022.1, "v": 229600, "type": "3-комн. кв."},
          {"t": 2022.12, "v": 232300, "type": "3-комн. кв."},
          {"t": 2022.14, "v": 237700, "type": "3-комн. кв."},
          {"t": 2022.155, "v": 243100, "type": "3-комн. кв."},
          {"t": 2022.18, "v": 251200, "type": "3-комн. кв."},
          {"t": 2022.21, "v": 253100, "type": "3-комн. кв."},
          {"t": 2022.24, "v": 251900, "type": "3-комн. кв."},
          {"t": 2022.28, "v": 250400, "type": "3-комн. кв."},
          {"t": 2022.3, "v": 247700, "type": "3-комн. кв."},
          {"t": 2022.33, "v": 246500, "type": "3-комн. кв."},
          {"t": 2022.38, "v": 242700, "type": "3-комн. кв."},
          {"t": 2022.42, "v": 239600, "type": "3-комн. кв."},
          {"t": 2022.455, "v": 235000, "type": "3-комн. кв."},
          {"t": 2022.51, "v": 234200, "type": "3-комн. кв."},
          {"t": 2022.58, "v": 233100, "type": "3-комн. кв."},
          {"t": 2022.62, "v": 230800, "type": "3-комн. кв."},
          {"t": 2022.68, "v": 231900, "type": "3-комн. кв."},
          {"t": 2022.73, "v": 229000, "type": "3-комн. кв."},
          {"t": 2022.78, "v": 226600, "type": "3-комн. кв."},
          {"t": 2022.82, "v": 226300, "type": "3-комн. кв."},
          {"t": 2022.855, "v": 228000, "type": "3-комн. кв."},
          {"t": 2022.89, "v": 226000, "type": "3-комн. кв."},
          {"t": 2022.92, "v": 225600, "type": "3-комн. кв."},
          {"t": 2022.955, "v": 227600, "type": "3-комн. кв."},
          {"t": 2023.0, "v": 229600, "type": "3-комн. кв."},
          {"t": 2023.01, "v": 232000, "type": "3-комн. кв."},
          {"t": 2023.02, "v": 227600, "type": "3-комн. кв."},
          {"t": 2023.055, "v": 225300, "type": "3-комн. кв."},
          {"t": 2023.1, "v": 227600, "type": "3-комн. кв."},
          {"t": 2023.145, "v": 226300, "type": "3-комн. кв."},
          {"t": 2023.19, "v": 227000, "type": "3-комн. кв."},
          {"t": 2023.235, "v": 228000, "type": "3-комн. кв."},
          {"t": 2023.28, "v": 228600, "type": "3-комн. кв."},
          {"t": 2023.325, "v": 229300, "type": "3-комн. кв."},
          {"t": 2023.36, "v": 231000, "type": "3-комн. кв."},
          {"t": 2023.37, "v": 236400, "type": "3-комн. кв."},
          {"t": 2023.39, "v": 240400, "type": "3-комн. кв."},
          {"t": 2023.41, "v": 245100, "type": "3-комн. кв."},
          {"t": 2023.445, "v": 240400, "type": "3-комн. кв."},
          {"t": 2023.48, "v": 234300, "type": "3-комн. кв."},
          {"t": 2023.5, "v": 238400, "type": "3-комн. кв."},
          {"t": 2023.52, "v": 245100, "type": "3-комн. кв."},
          {"t": 2023.56, "v": 247100, "type": "3-комн. кв."},
          {"t": 2023.6, "v": 247800, "type": "3-комн. кв."},
          {"t": 2023.65, "v": 248100, "type": "3-комн. кв."},
          {"t": 2023.68, "v": 250400, "type": "3-комн. кв."},
          {"t": 2023.715, "v": 251100, "type": "3-комн. кв."},
          {"t": 2023.76, "v": 250400, "type": "3-комн. кв."},
          {"t": 2023.79, "v": 253500, "type": "3-комн. кв."},
          {"t": 2023.825, "v": 250800, "type": "3-комн. кв."},
          {"t": 2023.86, "v": 251100, "type": "3-комн. кв."},
          {"t": 2023.89, "v": 246400, "type": "3-комн. кв."},
          {"t": 2023.915, "v": 243400, "type": "3-комн. кв."},
          {"t": 2023.95, "v": 244400, "type": "3-комн. кв."},
          {"t": 2023.96, "v": 241400, "type": "3-комн. кв."},
          {"t": 2023.98, "v": 249800, "type": "3-комн. кв."},
          {"t": 2024.015, "v": 254100, "type": "3-комн. кв."},
          {"t": 2024.05, "v": 255100, "type": "3-комн. кв."},
          {"t": 2024.09, "v": 254100, "type": "3-комн. кв."},
          {"t": 2024.15, "v": 252500, "type": "3-комн. кв."},
          {"t": 2024.2, "v": 254500, "type": "3-комн. кв."},
          {"t": 2024.25, "v": 253100, "type": "3-комн. кв."},
          {"t": 2024.28, "v": 252100, "type": "3-комн. кв."},
          {"t": 2024.315, "v": 256500, "type": "3-комн. кв."},
          {"t": 2024.35, "v": 258200, "type": "3-комн. кв."},
          {"t": 2024.39, "v": 258500, "type": "3-комн. кв."},
          {"t": 2024.44, "v": 258800, "type": "3-комн. кв."},
          {"t": 2024.47, "v": 259500, "type": "3-комн. кв."},
          {"t": 2024.505, "v": 260800, "type": "3-комн. кв."},
          {"t": 2024.54, "v": 259200, "type": "3-комн. кв."},
          {"t": 2024.555, "v": 258000, "type": "3-комн. кв."},
          {"t": 2024.57, "v": 253600, "type": "3-комн. кв."},
          {"t": 2024.58, "v": 248300, "type": "3-комн. кв."},
          {"t": 2024.595, "v": 241600, "type": "3-комн. кв."},
          {"t": 2024.615, "v": 237500, "type": "3-комн. кв."},
          {"t": 2024.64, "v": 232100, "type": "3-комн. кв."},
          {"t": 2024.655, "v": 228800, "type": "3-комн. кв."},
          {"t": 2024.67, "v": 224700, "type": "3-комн. кв."},
          {"t": 2024.695, "v": 229400, "type": "3-комн. кв."},
          {"t": 2024.715, "v": 232100, "type": "3-комн. кв."},
          {"t": 2024.74, "v": 235500, "type": "3-комн. кв."},
          {"t": 2024.76, "v": 241600, "type": "3-комн. кв."},
          {"t": 2024.78, "v": 244200, "type": "3-комн. кв."},
          {"t": 2024.805, "v": 240200, "type": "3-комн. кв."},
          {"t": 2024.83, "v": 242900, "type": "3-комн. кв."},
          {"t": 2024.85, "v": 246900, "type": "3-комн. кв."},
          {"t": 2024.87, "v": 238200, "type": "3-комн. кв."},
          {"t": 2024.895, "v": 240200, "type": "3-комн. кв."},
          {"t": 2024.92, "v": 241600, "type": "3-комн. кв."},
          {"t": 2024.95, "v": 242900, "type": "3-комн. кв."},
          {"t": 2024.975, "v": 244600, "type": "3-комн. кв."},
          {"t": 2024.995, "v": 246300, "type": "3-комн. кв."},
          {"t": 2025.02, "v": 249600, "type": "3-комн. кв."},
          {"t": 2025.04, "v": 250300, "type": "3-комн. кв."},
          {"t": 2025.06, "v": 251600, "type": "3-комн. кв."},
          {"t": 2025.085, "v": 253600, "type": "3-комн. кв."},
          {"t": 2025.105, "v": 246900, "type": "3-комн. кв."},
          {"t": 2025.13, "v": 243600, "type": "3-комн. кв."},
          {"t": 2025.15, "v": 250300, "type": "3-комн. кв."},
          {"t": 2025.16, "v": 267100, "type": "3-комн. кв."},
          {"t": 2025.175, "v": 259000, "type": "3-комн. кв."},
          {"t": 2025.195, "v": 255000, "type": "3-комн. кв."},
          {"t": 2025.22, "v": 252300, "type": "3-комн. кв."},
          {"t": 2025.24, "v": 263000, "type": "3-комн. кв."},
          {"t": 2025.26, "v": 253000, "type": "3-комн. кв."},
          {"t": 2025.285, "v": 255000, "type": "3-комн. кв."},
          {"t": 2025.31, "v": 256300, "type": "3-комн. кв."},
          {"t": 2025.33, "v": 257700, "type": "3-комн. кв."},
          {"t": 2025.355, "v": 258300, "type": "3-комн. кв."},
          {"t": 2025.375, "v": 256300, "type": "3-комн. кв."},
          {"t": 2025.4, "v": 257700, "type": "3-комн. кв."},
          {"t": 2025.41, "v": 261700, "type": "3-комн. кв."},
          {"t": 2025.42, "v": 269800, "type": "3-комн. кв."},
          {"t": 2025.43, "v": 276500, "type": "3-комн. кв."},
          {"t": 2025.445, "v": 265100, "type": "3-комн. кв."},
          {"t": 2025.46, "v": 253600, "type": "3-комн. кв."},
          {"t": 2025.475, "v": 271100, "type": "3-комн. кв."},
          {"t": 2025.485, "v": 279800, "type": "3-комн. кв."},
          {"t": 2025.5, "v": 275100, "type": "3-комн. кв."},
          {"t": 2025.51, "v": 281900, "type": "3-комн. кв."},
          {"t": 2025.52, "v": 285200, "type": "3-комн. кв."},
          {"t": 2025.535, "v": 286229, "type": "3-комн. кв."}
        ]
      },
      "mark": {"type": "line", "strokeWidth": 3.8, "strokeCap": "butt", "strokeJoin": "round"},
      "encoding": {
        "x": {
          "field": "t",
          "type": "quantitative",
          "scale": {"domain": [2015.964, 2026.0], "nice": false, "zero": false},
          "axis": {
            "title": "Дата",
            "values": [2016, 2017, 2018, 2019, 2020, 2021, 2022, 2023, 2024, 2025, 2026],
            "format": "d",
            "labelPadding": 24,
            "titleFontSize": 26,
            "titleX": 750,
            "titleY": 86,
            "titleBaseline": "alphabetic"
          }
        },
        "y": {
          "field": "v",
          "type": "quantitative",
          "scale": {"domain": [102700, 306800], "nice": false, "zero": false},
          "axis": {
            "title": "Цена за м², ₽",
            "values": [125000, 150000, 175000, 200000, 225000, 250000, 275000, 300000],
            "labelExpr": "replace(format(datum.value, ',d'), ',', ' ')",
            "labelPadding": 26,
            "titleFontSize": 24,
            "titleX": -180,
            "titleY": 507,
            "titleBaseline": "alphabetic",
            "titleAlign": "center"
          }
        },
        "color": {
          "field": "type",
          "type": "nominal",
          "scale": {
            "domain": ["1-комн. кв.", "2-комн. кв.", "3-комн. кв."],
            "range": ["#1c4cf2", "#ff7e12", "#27c744"]
          },
          "legend": {"title": "Тип квартиры"}
        },
        "strokeDash": {
          "field": "type",
          "type": "nominal",
          "scale": {
            "domain": ["1-комн. кв.", "2-комн. кв.", "3-комн. кв."],
            "range": [[25.6, 6.4, 4, 6.4], [25.6, 6.4, 4, 6.4], [4, 6.6]]
          },
          "legend": {"title": "Тип квартиры"}
        }
      }
    },
    {
      "mark": {"type": "rule", "color": "#505050", "strokeWidth": 3},
      "encoding": {"x": {"datum": 2026, "type": "quantitative"}}
    },
    {
      "data": {"values": [{"t": 2025.72, "v": 289470, "label": "286 229 ₽", "t0": 2025.677, "v0": 286860, "t1": 2025.565, "v1": 286600}]},
      "layer": [
        {
          "mark": {"type": "rule", "color": "#27c744", "strokeWidth": 2.5},
          "encoding": {
            "x": {"field": "t0", "type": "quantitative"},
            "y": {"field": "v0", "type": "quantitative"},
            "x2": {"field": "t1"},
            "y2": {"field": "v1"}
          }
        },
        {
          "mark": {"type": "point", "shape": "triangle-up", "filled": true, "color": "#27c744", "opacity": 1, "size": 110, "angle": 265},
          "encoding": {
            "x": {"field": "t1", "type": "quantitative"},
            "y": {"field": "v1", "type": "quantitative"}
          }
        },
        {
          "mark": {"type": "text", "align": "left", "baseline": "alphabetic", "font": "DejaVu Sans", "fontWeight": "bold", "fontSize": 21, "color": "#27c744"},
          "encoding": {
            "x": {"field": "t", "type": "quantitative"},
            "y": {"field": "v", "type": "quantitative"},
            "text": {"field": "label"}
          }
        }
      ]
    },
    {
      "data": {"values": [{"t": 2025.71, "v": 285650, "label": "285 257 ₽", "t0": 2025.655, "v0": 284840, "t1": 2025.577, "v1": 286050}]},
      "layer": [
        {
          "mark": {"type": "rule", "color": "#ff7e12", "strokeWidth": 2.5},
          "encoding": {
            "x": {"field": "t0", "type": "quantitative"},
            "y": {"field": "v0", "type": "quantitative"},
            "x2": {"field": "t1"},
            "y2": {"field": "v1"}
          }
        },
        {
          "mark": {"type": "text", "align": "left", "baseline": "alphabetic", "font": "DejaVu Sans", "fontWeight": "bold", "fontSize": 23, "color": "#ff7e12"},
          "encoding": {
            "x": {"field": "t", "type": "quantitative"},
            "y": {"field": "v", "type": "quantitative"},
            "text": {"field": "label"}
          }
        }
      ]
    },
    {
      "data": {"values": [{"t": 2025.813, "v": 248410, "label": "258 264 ₽", "t0": 2025.92, "v0": 252830, "t1": 2025.58, "v1": 258210}]},
      "layer": [
        {
          "mark": {"type": "rule", "color": "#1c4cf2", "strokeWidth": 2.5},
          "encoding": {
            "x": {"field": "t0", "type": "quantitative"},
            "y": {"field": "v0", "type": "quantitative"},
            "x2": {"field": "t1"},
            "y2": {"field": "v1"}
          }
        },
        {
          "mark": {"type": "point", "shape": "triangle-up", "filled": true, "color": "#1c4cf2", "opacity": 1, "size": 90, "angle": 298},
          "encoding": {
            "x": {"field": "t1", "type": "quantitative"},
            "y": {"field": "v1", "type": "quantitative"}
          }
        },
        {
          "mark": {"type": "text", "align": "left", "baseline": "alphabetic", "font": "DejaVu Sans", "fontWeight": "bold", "fontSize": 18.5, "color": "#1c4cf2"},
          "encoding": {
            "x": {"field": "t", "type": "quantitative"},
            "y": {"field": "v", "type": "quantitative"},
            "text": {"field": "label"}
          }
        }
      ]
    }
  ]
}
